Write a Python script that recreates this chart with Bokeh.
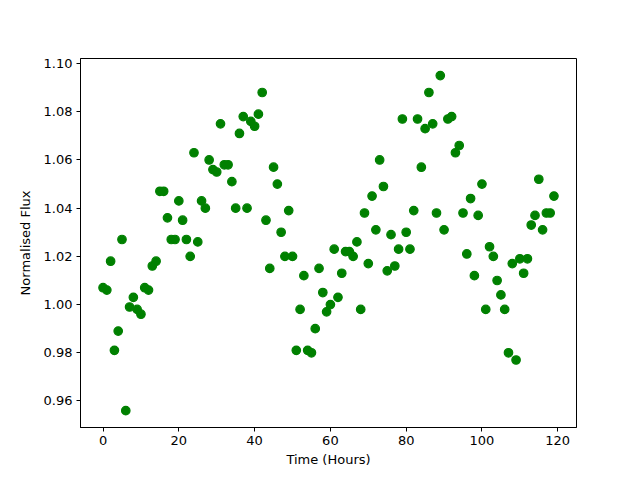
from bokeh.plotting import figure
from bokeh.models import FixedTicker, PrintfTickFormatter, Range1d
from bokeh.embed import file_html
from bokeh.resources import INLINE

hours = list(range(120))
flux = [1.007, 1.006, 1.018, 0.981, 0.989, 1.027, 0.956, 0.999, 1.003, 0.998,
        0.996, 1.007, 1.006, 1.016, 1.018, 1.047, 1.047, 1.036, 1.027, 1.027,
        1.043, 1.035, 1.027, 1.020, 1.063, 1.026, 1.043, 1.040, 1.060, 1.056,
        1.055, 1.075, 1.058, 1.058, 1.051, 1.040, 1.071, 1.078, 1.040, 1.076,
        1.074, 1.079, 1.088, 1.035, 1.015, 1.057, 1.050, 1.030, 1.020, 1.039,
        1.020, 0.981, 0.998, 1.012, 0.981, 0.980, 0.990, 1.015, 1.005, 0.997,
        1.000, 1.023, 1.003, 1.013, 1.022, 1.022, 1.020, 1.026, 0.998, 1.038,
        1.017, 1.045, 1.031, 1.060, 1.049, 1.014, 1.029, 1.016, 1.023, 1.077,
        1.030, 1.023, 1.039, 1.077, 1.057, 1.073, 1.088, 1.075, 1.038, 1.095,
        1.031, 1.077, 1.078, 1.063, 1.066, 1.038, 1.021, 1.044, 1.012, 1.037,
        1.050, 0.998, 1.024, 1.020, 1.010, 1.004, 0.998, 0.980, 1.017, 0.977,
        1.019, 1.013, 1.019, 1.033, 1.037, 1.052, 1.031, 1.038, 1.038, 1.045]

x_ticks = [0, 20, 40, 60, 80, 100, 120]
y_ticks = [0.96, 0.98, 1.00, 1.02, 1.04, 1.06, 1.08, 1.10]

p = figure(width=640, height=480, output_backend="svg", toolbar_location=None,
           x_range=Range1d(-5.95, 124.95), y_range=Range1d(0.9490, 1.1021),
           min_border_left=80, min_border_right=64, min_border_top=58,
           min_border_bottom=53)
p.scatter(hours, flux, size=8.5, color="#008000", line_color="#008000",
          line_width=1.2)

p.xgrid.visible = False
p.ygrid.visible = False
p.outline_line_color = "black"
p.outline_line_alpha = 1.0
p.outline_line_width = 1

p.xaxis.ticker = FixedTicker(ticks=x_ticks)
p.yaxis.ticker = FixedTicker(ticks=y_ticks)
p.yaxis.formatter = PrintfTickFormatter(format="%.2f")
p.xaxis.axis_label = "Time (Hours)"
p.yaxis.axis_label = "Normalised Flux"
for ax in (p.xaxis, p.yaxis):
    ax.major_tick_out = 4
    ax.major_tick_in = 0
    ax.minor_tick_out = 0
    ax.minor_tick_in = 0
    ax.axis_line_color = "black"
    ax.major_tick_line_color = "black"
    ax.major_label_text_font = "DejaVu Sans"
    ax.major_label_text_font_size = "13px"
    ax.major_label_text_color = "black"
    ax.axis_label_text_font = "DejaVu Sans"
    ax.axis_label_text_font_size = "13px"
    ax.axis_label_text_font_style = "normal"
    ax.axis_label_text_color = "black"
p.xaxis.major_label_standoff = 4
p.yaxis.major_label_standoff = 4
p.xaxis.axis_label_standoff = 4
p.yaxis.axis_label_standoff = 8

open("out.html", "w").write(file_html(p, INLINE))
